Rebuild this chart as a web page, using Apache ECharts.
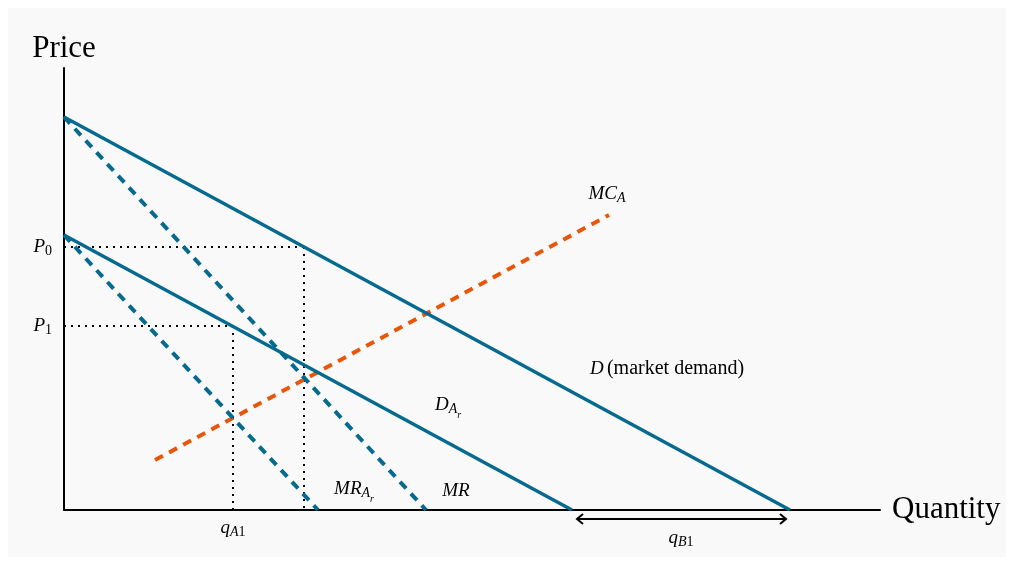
<!DOCTYPE html>
<html>
<head>
<meta charset="utf-8">
<script src="https://cdn.jsdelivr.net/npm/echarts@6/dist/echarts.min.js"></script>
<style>
  html, body { margin: 0; padding: 0; background: #ffffff; }
  #chart { position: absolute; left: 8px; top: 8px; width: 998px; height: 549px; }
</style>
</head>
<body>
<div id="chart"></div>
<script>
// ---- data (quantity, price) in diagram units ----
const demand   = [[0, 393], [726, 0]];   // D (market demand)
const demandAr = [[0, 275], [508, 0]];   // D_Ar (residual demand)
const mr       = [[0, 393], [362, 0]];   // MR
const mrAr     = [[0, 275], [254, 0]];   // MR_Ar
const mcA      = [[91, 50], [545, 295]]; // MC_A
const priceP0 = 263;
const priceP1 = 184;
const qAtP0 = 240;
const qA1 = 169;
const qB1Range = [508, 726];
const xMax = 816, yMax = 442;

const BLUE = '#066a8f';
const ORANGE = '#e8560a';
const INK = '#000000';
const SERIF = '"Liberation Serif", "DejaVu Serif", serif';

const rich = {
  i:  { fontFamily: SERIF, fontStyle: 'italic', fontSize: 19, lineHeight: 24, color: INK, verticalAlign: 'middle' },
  r:  { fontFamily: SERIF, fontSize: 20, lineHeight: 24, color: INK, verticalAlign: 'middle' },
  s:  { fontFamily: SERIF, fontSize: 14, color: INK, verticalAlign: 'bottom', padding: [0, 0, 1, 0] },
  si: { fontFamily: SERIF, fontStyle: 'italic', fontSize: 14, color: INK, verticalAlign: 'bottom', padding: [0, 0, 1, 0] },
  ss: { fontFamily: SERIF, fontStyle: 'italic', fontSize: 10, color: INK, verticalAlign: 'bottom', padding: [0, 0, -3, 0] },
  big:{ fontFamily: SERIF, fontSize: 31, color: INK }
};

function lineSeries(data, color, width, type) {
  return {
    type: 'line', data: data, symbol: 'none', silent: true, animation: false,
    lineStyle: { color: color, width: width, type: type, cap: 'butt', opacity: 1 }, z: 3
  };
}
function labelPoint(pt, text, position, distance) {
  return {
    value: pt,
    label: { show: true, formatter: text, position: position, distance: distance || 0,
             color: INK, opacity: 1, textBorderWidth: 0, rich: rich }
  };
}

const labels = [
  labelPoint([0, yMax], '{big|Price}', 'top', 4),
  labelPoint([xMax, 0], '{big|Quantity}', 'right', 12),
  labelPoint([0, priceP0], '{i|P}{s|0}', 'left', 12),
  labelPoint([0, priceP1], '{i|P}{s|1}', 'left', 12),
  labelPoint([qA1, 0], '{i|q}{si|A}{s|1}', 'bottom', 6),
  labelPoint([(qB1Range[0] + qB1Range[1]) / 2, 0], '{i|q}{si|B}{s|1}', 'bottom', 16),
  labelPoint([543, 316], '{i|MC}{si|A}', 'inside'),
  labelPoint([603, 141], '{i|D} {r|(market demand)}', 'inside'),
  labelPoint([384, 105], '{i|D}{si|A}{ss|r}', 'inside'),
  labelPoint([290, 21], '{i|MR}{si|A}{ss|r}', 'inside'),
  labelPoint([392, 19], '{i|MR}', 'inside')
];

const chart = echarts.init(document.getElementById('chart'));
const option = {
  backgroundColor: '#f9f9f9',
  animation: false,
  grid: { left: 56, top: 60, width: 816, height: 442 },
  xAxis: {
    type: 'value', min: 0, max: xMax,
    axisLine: { show: true, onZero: false, lineStyle: { color: '#000', width: 2 } },
    axisTick: { show: false }, axisLabel: { show: false }, splitLine: { show: false }
  },
  yAxis: {
    type: 'value', min: 0, max: yMax,
    axisLine: { show: true, onZero: false, lineStyle: { color: '#000', width: 2 } },
    axisTick: { show: false }, axisLabel: { show: false }, splitLine: { show: false }
  },
  series: [
    lineSeries([[0, priceP0], [qAtP0, priceP0]], '#000', 2, [2, 5]),
    lineSeries([[qAtP0, priceP0], [qAtP0, 0]], '#000', 2, [2, 5]),
    lineSeries([[0, priceP1], [qA1, priceP1]], '#000', 2, [2, 5]),
    lineSeries([[qA1, priceP1], [qA1, 0]], '#000', 2, [2, 5]),
    lineSeries(mcA, ORANGE, 4, [9, 7]),
    lineSeries(mr, BLUE, 4, [9, 7]),
    lineSeries(mrAr, BLUE, 4, [9, 7]),
    lineSeries(demand, BLUE, 3.4, 'solid'),
    lineSeries(demandAr, BLUE, 3.4, 'solid'),
    {
      type: 'scatter', symbolSize: 0, silent: true, animation: false, clip: false,
      itemStyle: { opacity: 1 },
      data: labels, z: 5
    }
  ]
};
chart.setOption(option);

// double-headed arrow marking q_B1 under the axis
const a = chart.convertToPixel({ gridIndex: 0 }, [qB1Range[0], 0]);
const b = chart.convertToPixel({ gridIndex: 0 }, [qB1Range[1], 0]);
const y = a[1] + 9;
const x1 = a[0] + 5, x2 = b[0] - 4;
const st = { stroke: '#000', lineWidth: 2, fill: null };
chart.setOption({
  graphic: [
    { type: 'line', shape: { x1: x1, y1: y, x2: x2, y2: y }, style: st, silent: true },
    { type: 'polyline', shape: { points: [[x1 + 6, y - 5], [x1, y], [x1 + 6, y + 5]] }, style: st, silent: true },
    { type: 'polyline', shape: { points: [[x2 - 6, y - 5], [x2, y], [x2 - 6, y + 5]] }, style: st, silent: true }
  ]
});
</script>
</body>
</html>
